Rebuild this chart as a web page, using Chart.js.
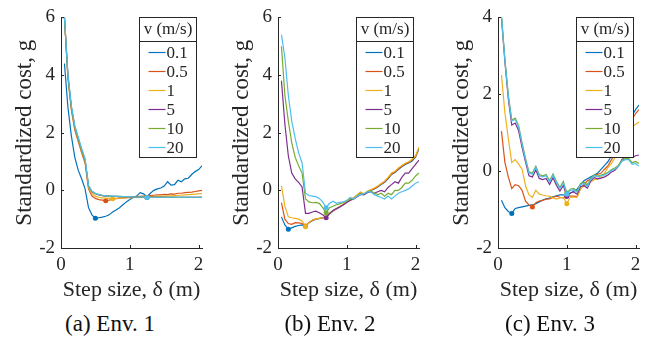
<!DOCTYPE html>
<html>
<head>
<meta charset="utf-8">
<script src="https://cdn.jsdelivr.net/npm/chart.js@4.4.1/dist/chart.umd.min.js"></script>
<style>
body{margin:0;background:#fff;font-family:"Liberation Serif",serif}
#wrap{position:relative;width:657px;height:345px;overflow:hidden}
canvas{position:absolute;top:0}
.cap{position:absolute;top:309px;width:160px;text-align:center;font-size:23px;color:#111;line-height:30px}
</style>
</head>
<body>
<div id="wrap">
<canvas id="env1" width="219" height="305" style="left:0px"></canvas>
<canvas id="env2" width="219" height="305" style="left:217px"></canvas>
<canvas id="env3" width="219" height="305" style="left:437px"></canvas>
<div class="cap" style="left:30px;font-family:'Liberation Serif'">(a) Env. 1</div>
<div class="cap" style="left:250px;font-family:'Liberation Serif'">(b) Env. 2</div>
<div class="cap" style="left:470px;font-family:'Liberation Serif'">(c) Env. 3</div>
</div>
<script>
// step sizes (m), shared by every curve
const steps = [0.05,0.1,0.15,0.2,0.25,0.3,0.35,0.4,0.45,0.5,0.55,0.6,0.65,0.7,0.75,0.8,0.85,0.9,0.95,1.0,
1.05,1.1,1.15,1.2,1.25,1.3,1.35,1.4,1.45,1.5,1.55,1.6,1.65,1.7,1.75,1.8,1.85,1.9,1.95,2.0,2.05]
const speeds = ["0.1","0.5","1","5","10","20"]
const lineColors = ["#0072BD","#D95319","#EDB120","#7E2F8E","#77AC30","#4DBEEE"]

// Env. 1
const env1V01 = [4.4,2.9,1.9,1.15,0.7,0.4,0.05,-0.6,-0.85,-0.97,-0.95,-0.93,-0.9,-0.85,-0.75,-0.68,-0.6,-0.5,-0.4,-0.32,
-0.25,-0.2,-0.08,-0.12,-0.22,-0.1,0.0,0.05,0.08,0.15,0.3,0.18,0.2,0.35,0.3,0.4,0.42,0.55,0.65,0.72,0.85]
const env1V05 = [6.0,3.9,2.8,2.1,1.7,1.3,0.95,0.05,-0.2,-0.28,-0.32,-0.34,-0.36,-0.34,-0.31,-0.29,-0.27,-0.26,-0.25,-0.24,
-0.23,-0.22,-0.21,-0.2,-0.19,-0.18,-0.17,-0.16,-0.16,-0.14,-0.15,-0.12,-0.13,-0.1,-0.1,-0.08,-0.07,-0.06,-0.04,-0.02,0.0]
const env1V1 = [6.0,3.95,2.85,2.15,1.75,1.35,1.0,0.1,-0.12,-0.2,-0.24,-0.26,-0.27,-0.28,-0.29,-0.28,-0.27,-0.26,-0.26,-0.25,
-0.25,-0.24,-0.24,-0.23,-0.23,-0.22,-0.22,-0.21,-0.21,-0.2,-0.2,-0.19,-0.18,-0.17,-0.17,-0.16,-0.15,-0.14,-0.13,-0.12,-0.11]
const env1V5 = [6.0,4.0,2.9,2.2,1.8,1.4,1.05,0.15,-0.05,-0.12,-0.16,-0.18,-0.2,-0.2,-0.21,-0.21,-0.22,-0.22,-0.22,-0.23,
-0.23,-0.23,-0.23,-0.24,-0.25,-0.24,-0.24,-0.24,-0.24,-0.24,-0.24,-0.24,-0.24,-0.24,-0.24,-0.24,-0.24,-0.24,-0.24,-0.24,-0.24]
const env1V10 = [6.0,4.0,2.9,2.2,1.8,1.4,1.05,0.16,-0.04,-0.11,-0.15,-0.18,-0.19,-0.2,-0.21,-0.21,-0.21,-0.22,-0.22,-0.22,
-0.23,-0.23,-0.23,-0.23,-0.25,-0.24,-0.24,-0.24,-0.24,-0.24,-0.24,-0.24,-0.24,-0.24,-0.24,-0.24,-0.24,-0.24,-0.24,-0.24,-0.24]
const env1V20 = [6.0,4.05,2.95,2.25,1.85,1.45,1.1,0.17,-0.03,-0.1,-0.15,-0.17,-0.19,-0.2,-0.2,-0.21,-0.21,-0.22,-0.22,-0.22,
-0.23,-0.23,-0.23,-0.23,-0.25,-0.24,-0.24,-0.24,-0.24,-0.24,-0.24,-0.24,-0.24,-0.24,-0.24,-0.24,-0.24,-0.24,-0.24,-0.24,-0.24]

// Env. 2
const env2V01 = [-0.92,-1.2,-1.35,-1.3,-1.25,-1.22,-1.2,-1.25,-1.12,-1.05,-1.0,-0.98,-0.96,-0.93,-0.82,-0.72,-0.65,-0.58,-0.5,-0.4,
-0.32,-0.28,-0.18,-0.08,-0.15,-0.05,0.0,0.05,0.12,0.2,0.28,0.4,0.55,0.62,0.72,0.82,0.9,0.95,1.02,1.15,1.45]
const env2V05 = [-0.43,-1.0,-1.15,-1.18,-1.12,-1.13,-1.15,-1.24,-1.12,-1.04,-0.99,-0.97,-0.95,-0.92,-0.8,-0.71,-0.64,-0.57,-0.49,-0.4,
-0.31,-0.27,-0.17,-0.07,-0.14,-0.04,0.01,0.06,0.13,0.22,0.3,0.42,0.57,0.64,0.74,0.84,0.92,0.97,1.05,1.18,1.47]
const env2V1 = [0.16,-0.55,-0.92,-0.95,-0.97,-1.0,-1.06,-1.26,-1.12,-1.03,-0.99,-0.97,-0.95,-0.92,-0.8,-0.7,-0.63,-0.56,-0.48,-0.39,
-0.3,-0.26,-0.16,-0.06,-0.13,-0.03,0.02,0.08,0.15,0.24,0.32,0.45,0.6,0.66,0.78,0.86,0.94,0.99,1.08,1.2,1.5]
const env2V5 = [3.8,2.3,1.2,0.6,0.4,0.28,0.12,-0.8,-0.8,-0.75,-0.72,-0.78,-0.85,-0.95,-0.8,-0.7,-0.63,-0.57,-0.5,-0.42,
-0.35,-0.3,-0.22,-0.15,-0.15,-0.08,-0.05,-0.1,-0.05,0.0,-0.05,0.1,0.2,0.3,0.25,0.45,0.6,0.6,0.75,0.9,1.05]
const env2V10 = [5.0,3.3,2.4,1.65,1.15,0.85,0.6,-0.3,-0.4,-0.43,-0.42,-0.45,-0.6,-0.78,-0.6,-0.55,-0.5,-0.47,-0.42,-0.37,
-0.28,-0.3,-0.2,-0.12,-0.12,-0.05,-0.02,-0.1,-0.15,-0.1,-0.2,-0.1,-0.15,0.0,0.0,0.1,0.25,0.25,0.35,0.5,0.6]
const env2V20 = [5.4,4.6,3.3,2.4,1.8,1.3,0.95,-0.1,-0.18,-0.2,-0.22,-0.28,-0.4,-0.6,-0.45,-0.38,-0.45,-0.42,-0.4,-0.35,
-0.25,-0.3,-0.2,-0.15,-0.12,-0.05,-0.05,-0.15,-0.2,-0.25,-0.3,-0.2,-0.3,-0.2,-0.1,-0.05,0.0,0.05,0.15,0.25,0.3]

// Env. 3
const env3V01 = [-0.76,-0.95,-1.05,-1.1,-0.97,-0.95,-0.93,-0.91,-0.89,-0.88,-0.85,-0.8,-0.75,-0.72,-0.7,-0.67,-0.64,-0.62,-0.62,-0.6,
-0.58,-0.52,-0.47,-0.35,-0.25,-0.2,-0.15,-0.1,-0.05,0.05,0.15,0.25,0.4,0.55,0.75,0.95,1.1,1.3,1.45,1.6,1.72]
const env3V05 = [1.04,0.23,-0.15,-0.45,-0.35,-0.38,-0.5,-0.78,-0.88,-0.93,-0.82,-0.78,-0.76,-0.73,-0.72,-0.68,-0.65,-0.68,-0.7,-0.62,
-0.65,-0.65,-0.66,-0.45,-0.35,-0.25,-0.2,-0.12,-0.08,-0.05,0.05,0.14,0.3,0.45,0.65,0.85,1.0,1.2,1.35,1.5,1.6]
const env3V1 = [2.5,1.53,0.85,0.22,0.3,0.18,0.05,-0.38,-0.62,-0.68,-0.5,-0.6,-0.62,-0.64,-0.65,-0.7,-0.73,-0.7,-0.68,-0.85,
-0.68,-0.68,-0.68,-0.45,-0.38,-0.32,-0.28,-0.22,-0.2,-0.15,-0.05,0.1,0.2,0.35,0.55,0.75,0.9,1.05,1.15,1.22,1.28]
const env3V5 = [4.0,2.85,1.88,1.2,1.25,1.05,0.62,0.24,-0.12,-0.15,0.03,-0.19,-0.22,-0.19,-0.35,-0.17,-0.37,-0.52,-0.37,-0.66,
-0.57,-0.54,-0.6,-0.4,-0.38,-0.44,-0.25,-0.17,-0.2,-0.18,-0.15,-0.1,-0.02,0.02,0.12,0.3,0.38,0.4,0.35,0.4,0.42]
const env3V10 = [4.05,2.92,1.98,1.33,1.38,1.18,0.73,0.33,-0.02,-0.05,0.13,-0.09,-0.12,-0.09,-0.25,-0.07,-0.27,-0.42,-0.27,-0.57,
-0.47,-0.45,-0.52,-0.32,-0.29,-0.37,-0.18,-0.1,-0.13,-0.1,-0.08,-0.03,0.04,0.08,0.15,0.28,0.33,0.33,0.22,0.25,0.2]
const env3V20 = [4.05,2.9,1.95,1.3,1.35,1.15,0.7,0.3,-0.05,-0.08,0.1,-0.12,-0.15,-0.12,-0.28,-0.1,-0.3,-0.45,-0.3,-0.6,
-0.5,-0.48,-0.55,-0.35,-0.32,-0.4,-0.2,-0.12,-0.15,-0.12,-0.1,-0.05,0.02,0.05,0.12,0.25,0.3,0.3,0.18,0.2,0.13]

const axisColor = "#262626"
const serif = "'Liberation Serif'"
Chart.defaults.font.family = serif
const tickFont = {family:serif, size:19}
const titleFont = {family:serif, size:22}
const legendFont = "17px " + serif

function minIndex(arr){
  let k = 0
  arr.forEach((v,i)=>{ if(v < arr[k]) k = i })
  return k
}

// inward tick marks plus a boxed legend with a header row
const matlabAxes = {
  id:"matlabAxes",
  afterDraw(chart){
    const ctx = chart.ctx
    const a = chart.chartArea
    const xs = chart.scales.x, ys = chart.scales.y
    ctx.save()
    ctx.strokeStyle = axisColor
    ctx.lineWidth = 1
    ctx.beginPath()
    xs.ticks.forEach(t=>{
      const px = Math.round(xs.getPixelForValue(t.value)) + 0.5
      ctx.moveTo(px, a.bottom); ctx.lineTo(px, a.bottom - 3)
    })
    ys.ticks.forEach(t=>{
      const py = Math.round(ys.getPixelForValue(t.value)) + 0.5
      ctx.moveTo(a.left, py); ctx.lineTo(a.left + 3, py)
    })
    ctx.stroke()

    const bw = 57, bh = 140
    const bx = Math.round(a.right - 6 - bw) + 0.5
    const by = Math.round(a.top) + 0.5
    ctx.fillStyle = "#fff"
    ctx.fillRect(bx, by, bw, bh)
    ctx.strokeRect(bx, by, bw, bh)
    ctx.beginPath()
    ctx.moveTo(bx, by + 24); ctx.lineTo(bx + bw, by + 24)
    ctx.stroke()

    ctx.font = legendFont
    ctx.fillStyle = axisColor
    ctx.textBaseline = "middle"
    ctx.textAlign = "center"
    ctx.fillText("v (m/s)", bx + bw / 2, by + 12)
    ctx.textAlign = "left"
    chart.data.datasets.forEach((ds,i)=>{
      const y = by + 35 + 19 * i
      ctx.strokeStyle = ds.borderColor
      ctx.lineWidth = 1.2
      ctx.beginPath()
      ctx.moveTo(bx + 9, y); ctx.lineTo(bx + 26, y)
      ctx.stroke()
      ctx.fillText(ds.label, bx + 27, y + 1)
    })
    ctx.restore()
  }
}

function makeChart(id, series, yMin, yMax){
  const datasets = series.map((vals,i)=>{
    const k = minIndex(vals)
    return {
      label: speeds[i],
      data: vals.map((v,j)=>({x:steps[j], y:v})),
      borderColor: lineColors[i],
      backgroundColor: lineColors[i],
      borderWidth: 1.2,
      pointRadius: c => c.dataIndex === k ? 2.5 : 0,
      pointBorderWidth: 0,
      pointHoverRadius: 0,
      tension: 0,
      order: -i
    }
  })

  return new Chart(document.getElementById(id), {
    type:"line",
    data:{datasets},
    options:{
      responsive:false,
      animation:false,
      devicePixelRatio:1,
      layout:{padding:{left:3, right:17, top:15, bottom:0}},
      plugins:{legend:{display:false}, tooltip:{enabled:false}},
      scales:{
        x:{
          type:"linear", min:0, max:2.05,
          ticks:{stepSize:1, includeBounds:false, padding:6, color:axisColor, font:tickFont},
          grid:{display:false, drawTicks:false},
          border:{color:axisColor, width:1},
          title:{display:true, text:"Step size, δ (m)", color:axisColor, font:titleFont, padding:{top:0, bottom:2}},
          afterFit(s){ s.height = 57 }
        },
        y:{
          min:yMin, max:yMax,
          ticks:{stepSize:2, padding:6, color:axisColor, font:tickFont},
          grid:{display:false, drawTicks:false},
          border:{color:axisColor, width:1},
          title:{display:true, text:"Standardized cost, g", color:axisColor, font:{family:serif, size:23}, padding:{top:8, bottom:0}},
          afterFit(s){ s.width = 58 }
        }
      }
    },
    plugins:[matlabAxes]
  })
}

makeChart("env1", [env1V01, env1V05, env1V1, env1V5, env1V10, env1V20], -2, 6)
makeChart("env2", [env2V01, env2V05, env2V1, env2V5, env2V10, env2V20], -2, 6)
makeChart("env3", [env3V01, env3V05, env3V1, env3V5, env3V10, env3V20], -2, 4)
</script>
</body>
</html>
